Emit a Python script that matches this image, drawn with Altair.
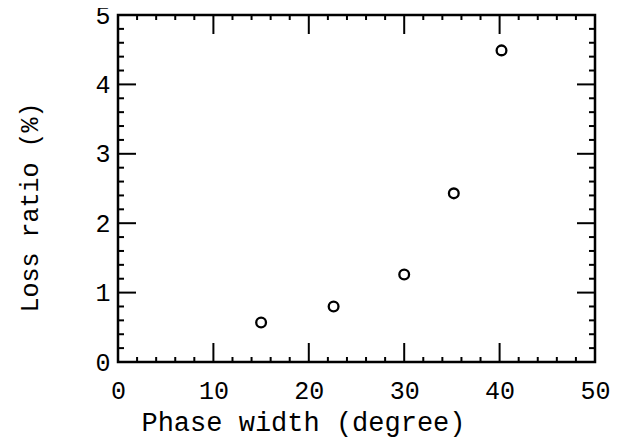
import altair as alt
import pandas as pd

phase_width = [15.0, 22.6, 30.0, 35.2, 40.2]
loss_ratio = [0.57, 0.80, 1.26, 2.43, 4.49]

x_major = [0, 10, 20, 30, 40, 50]
x_minor = [v for v in range(0, 51, 2) if v % 10 != 0]
y_major = [0, 1, 2, 3, 4, 5]
y_minor = [round(i * 0.2, 1) for i in range(26) if i % 5 != 0]

W, H = 477, 347
FONT = "Liberation Mono"

xs = alt.Scale(domain=[0, 50], nice=False)
ys = alt.Scale(domain=[0, 5], nice=False)
XT = "Phase width (degree)"
YT = "Loss ratio (%)"
axis_style = dict(ticks=False, domain=False, grid=False, labelFlush=False,
                  labelFont=FONT, labelFontSize=25, labelColor="black",
                  titleFont=FONT, titleFontWeight="normal", titleColor="black")
xax = alt.Axis(values=x_major, labelPadding=16, titlePadding=6,
               titleFontSize=27, titleX=185, **axis_style)
yax = alt.Axis(values=y_major, labelPadding=8, titlePadding=52,
               titleFontSize=25, titleY=192, **axis_style)

pts = pd.DataFrame({"w": phase_width, "r": loss_ratio})

points = alt.Chart(pts).mark_point(
    shape="circle", filled=False, stroke="black", size=95, strokeWidth=2.3, opacity=1
).encode(
    x=alt.X("w:Q", scale=xs, title=XT, axis=xax),
    y=alt.Y("r:Q", scale=ys, title=YT, axis=yax),
)

def xticks(vals, length):
    df = pd.DataFrame({"v": vals})
    b = alt.Chart(df).mark_rule(stroke="black", strokeWidth=2).encode(
        x=alt.X("v:Q", scale=xs, title=XT, axis=xax), y=alt.value(H), y2=alt.value(H - length))
    t = alt.Chart(df).mark_rule(stroke="black", strokeWidth=2).encode(
        x=alt.X("v:Q", scale=xs, title=XT, axis=xax), y=alt.value(0), y2=alt.value(length))
    return [b, t]

def yticks(vals, length):
    df = pd.DataFrame({"v": vals})
    l = alt.Chart(df).mark_rule(stroke="black", strokeWidth=2).encode(
        y=alt.Y("v:Q", scale=ys, title=YT, axis=yax), x=alt.value(0), x2=alt.value(length))
    r = alt.Chart(df).mark_rule(stroke="black", strokeWidth=2).encode(
        y=alt.Y("v:Q", scale=ys, title=YT, axis=yax), x=alt.value(W), x2=alt.value(W - length))
    return [l, r]

layers = xticks(x_major, 19) + xticks(x_minor, 5) + yticks(y_major, 18) + yticks(y_minor, 6) + [points]

chart = alt.layer(*layers).properties(
    width=W, height=H,
    autosize=alt.AutoSizeParams(type="none"),
    padding={"left": 110, "top": 7, "right": 16, "bottom": 78},
).configure(background="white").configure_view(
    stroke="black", strokeWidth=2.5
)

chart.save("out.html", embed_options={"renderer": "svg", "actions": False})
